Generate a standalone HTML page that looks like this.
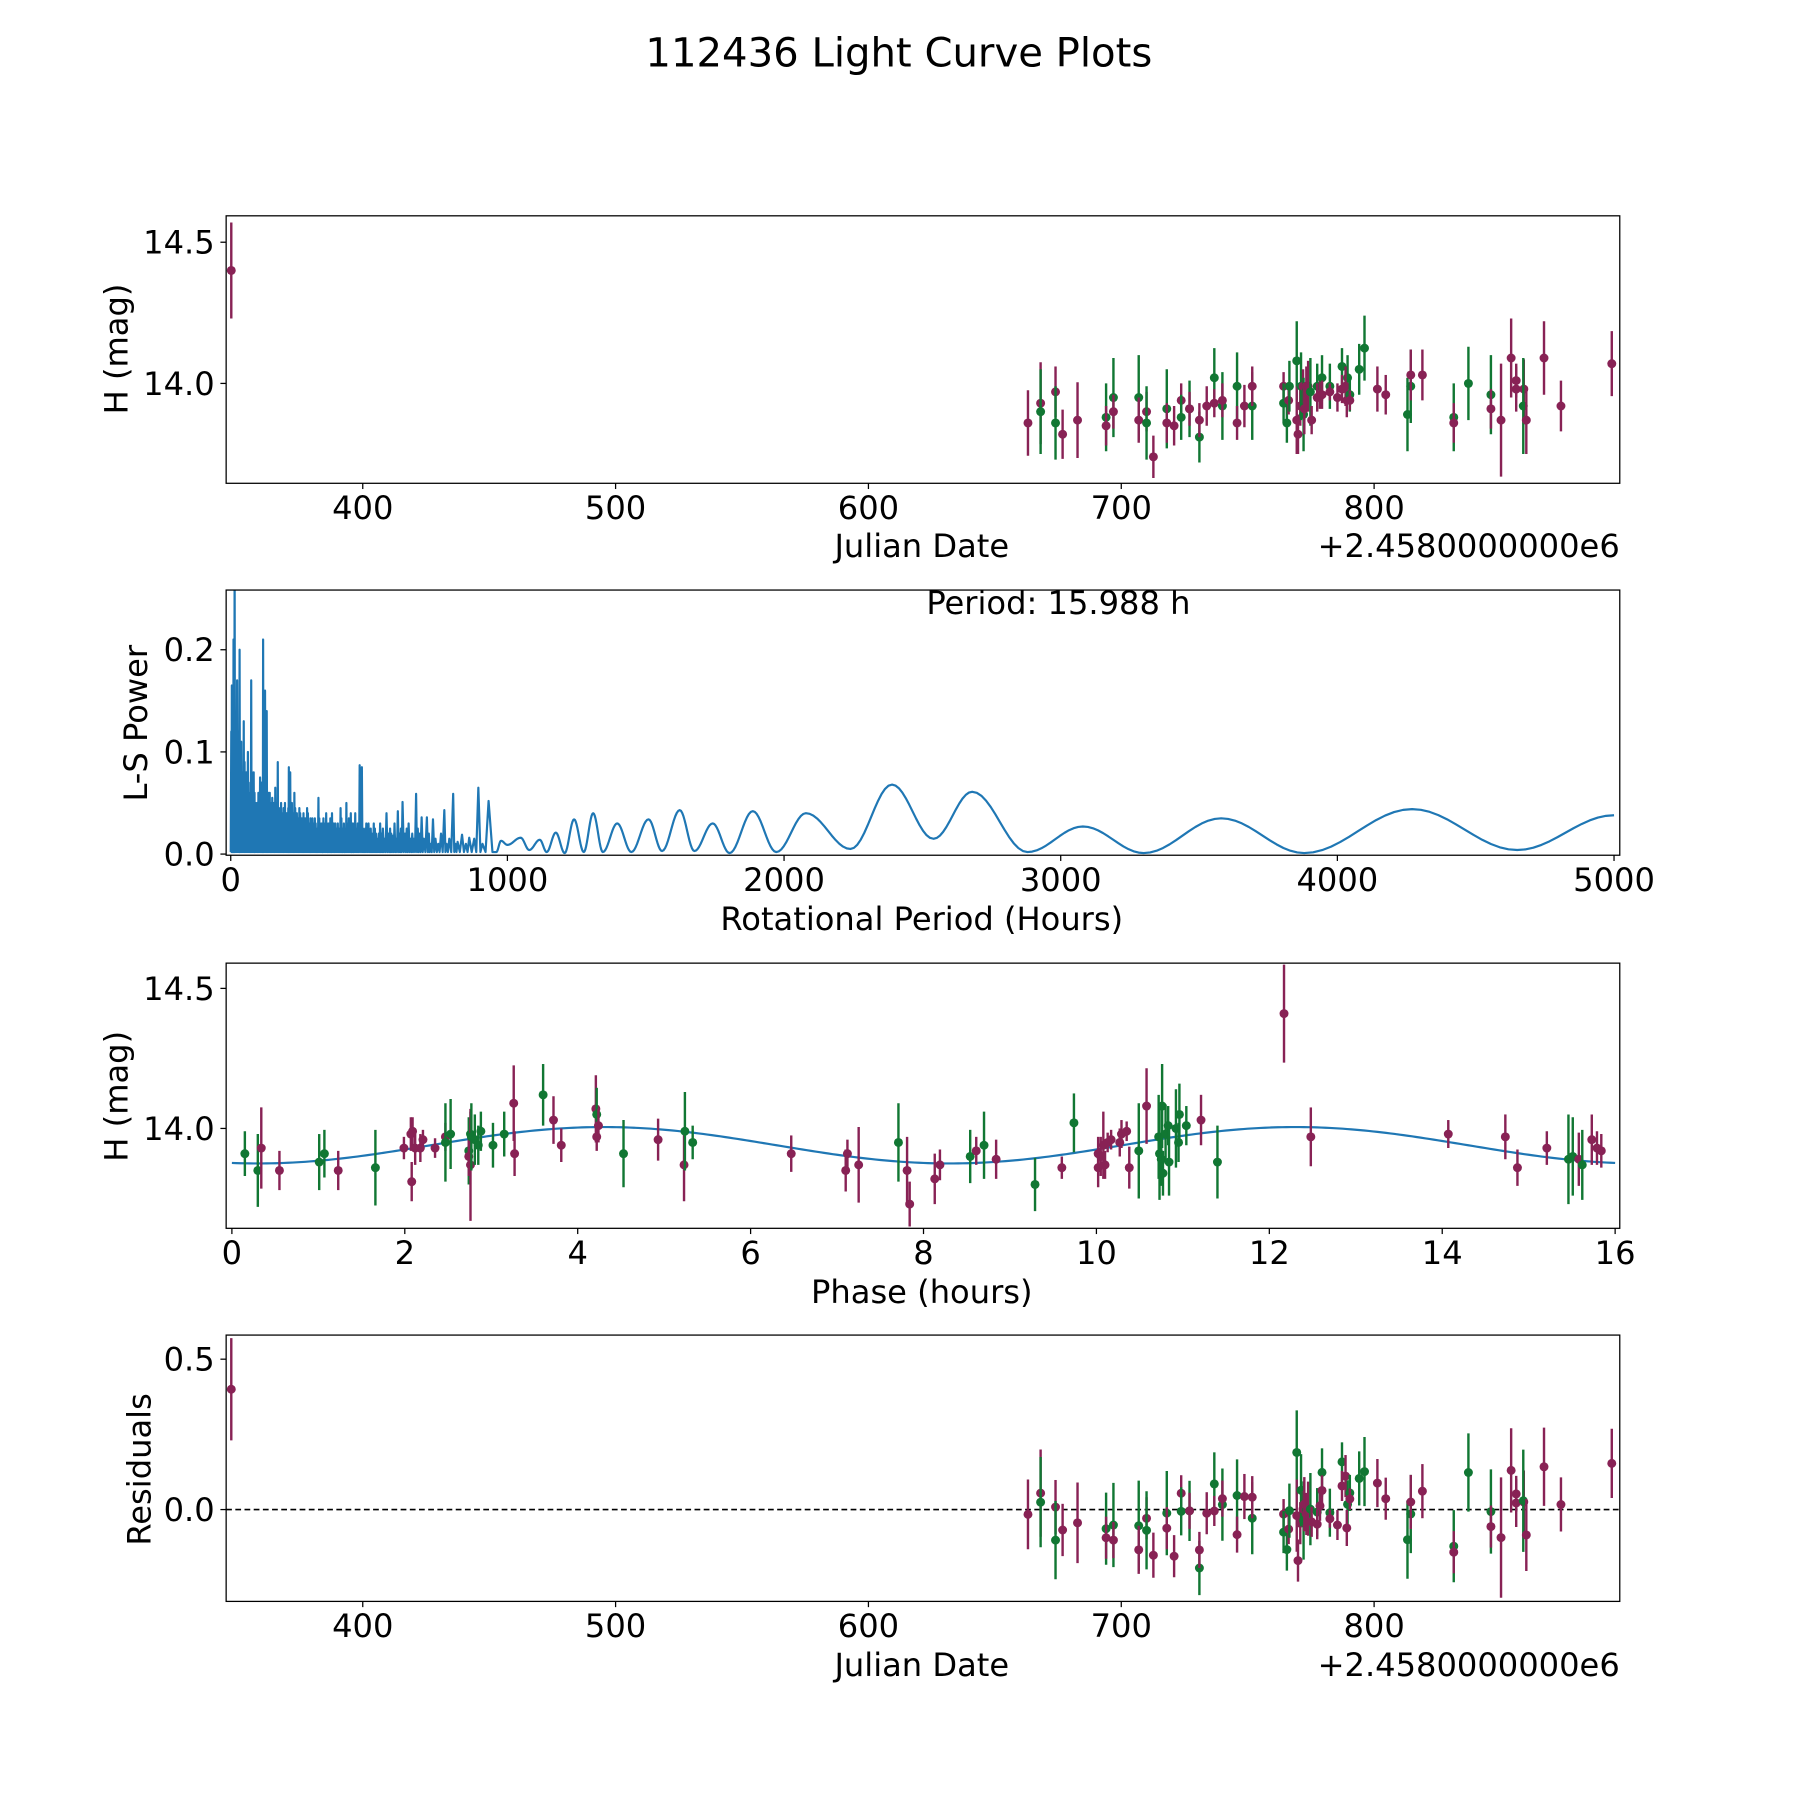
<!DOCTYPE html>
<html><head><meta charset="utf-8"><style>
html,body{margin:0;padding:0;background:#fff;}
svg{display:block;}
text{font-family:"DejaVu Sans","Liberation Sans",sans-serif;fill:#000;}
</style></head>
<body>
<svg id="fig" width="1800" height="1800" viewBox="0 0 1568 1568" xmlns="http://www.w3.org/2000/svg">
<rect width="1568" height="1568" fill="#fff"/>
<text x="783" y="58" font-size="35" text-anchor="middle">112436 Light Curve Plots</text>
</svg>
<script>
// ---------- Panel 1 / 4 observation data ----------
const obsJD = [348,663.1,668.1,668.1,674.0,674.0,676.8,682.7,694.0,694.0,696.9,696.9,706.9,706.9,710.0,710.0,712.7,718.0,718.0,720.9,723.7,723.7,727.0,727.0,730.9,730.9,733.8,736.8,736.8,740.0,740.0,745.8,745.8,748.7,751.8,751.8,764.2,764.2,765.5,766.2,766.5,769.4,769.4,769.9,770.8,771.1,771.9,772.1,772.4,773.2,773.9,774.8,775.3,777.5,777.5,778.6,779.4,779.4,782.5,782.5,785.5,787.3,787.3,789.5,788.7,789.2,790.4,790.4,794.1,796.2,801.3,804.6,813.2,814.5,814.5,819.1,831.5,831.5,837.3,846.2,846.2,850.2,854.2,856.2,856.2,859.2,859.0,860.2,867.2,873.9,894.0];
const obsMag = [14.40,13.86,13.93,13.90,13.97,13.86,13.82,13.87,13.88,13.85,13.95,13.90,13.95,13.87,13.90,13.86,13.74,13.91,13.86,13.85,13.94,13.88,13.91,13.91,13.81,13.87,13.92,14.02,13.93,13.92,13.94,13.99,13.86,13.92,13.92,13.99,13.99,13.93,13.86,13.94,13.99,14.08,13.87,13.82,13.92,13.99,13.99,13.89,13.91,13.99,13.99,13.97,13.87,13.99,13.95,13.96,14.02,13.96,13.99,13.97,13.95,14.06,13.98,14.02,13.99,13.94,13.96,13.94,14.05,14.125,13.98,13.96,13.89,13.99,14.03,14.03,13.88,13.86,14.00,13.96,13.91,13.87,14.09,14.01,13.98,13.98,13.92,13.87,14.09,13.92,14.07];
const obsErr = [0.17,0.116,0.145,0.15,0.09,0.13,0.087,0.134,0.12,0.07,0.14,0.06,0.15,0.08,0.07,0.13,0.075,0.14,0.07,0.07,0.06,0.08,0.1,0.06,0.09,0.06,0.07,0.105,0.05,0.12,0.06,0.12,0.06,0.075,0.12,0.07,0.05,0.07,0.07,0.05,0.09,0.14,0.12,0.07,0.07,0.12,0.06,0.13,0.09,0.07,0.09,0.12,0.05,0.08,0.05,0.05,0.08,0.05,0.08,0.03,0.05,0.065,0.05,0.08,0.07,0.06,0.06,0.035,0.09,0.115,0.08,0.07,0.13,0.13,0.09,0.09,0.12,0.07,0.13,0.14,0.07,0.2,0.14,0.06,0.08,0.105,0.17,0.12,0.13,0.09,0.115];
const obsBand = ['m','m','m','g','m','g','m','m','g','m','g','m','g','m','m','g','m','g','m','m','m','g','g','m','g','m','m','g','m','g','m','g','m','m','g','m','m','g','g','m','g','g','m','m','m','g','m','g','m','m','m','g','m','g','m','m','g','m','g','m','m','g','m','g','m','m','g','m','g','g','m','m','g','g','m','m','g','m','g','g','m','m','m','m','m','m','g','m','m','m','m'];

// ---------- Panel 3 phased data ----------
const phHours = [0.15,0.30,0.34,0.55,1.01,1.07,1.23,1.66,1.99,2.07,2.09,2.08,2.12,2.18,2.21,2.35,2.47,2.47,2.53,2.76,2.74,2.74,2.76,2.77,2.81,2.85,2.88,3.02,3.15,3.26,3.27,3.60,3.72,3.81,4.21,4.22,4.24,4.22,4.53,4.93,5.23,5.24,5.33,6.47,7.12,7.10,7.25,7.71,7.81,7.84,8.13,8.19,8.54,8.61,8.70,8.84,9.29,9.60,9.74,10.02,10.02,10.05,10.08,10.10,10.13,10.17,10.27,10.29,10.35,10.38,10.49,10.58,10.72,10.73,10.76,10.75,10.77,10.80,10.83,10.84,10.92,10.96,10.95,11.04,11.21,11.40,12.17,12.48,14.07,14.73,14.87,15.21,15.46,15.51,15.58,15.62,15.73,15.79,15.84];
const phMag = [13.91,13.85,13.93,13.85,13.88,13.91,13.85,13.86,13.93,13.98,13.99,13.81,13.93,13.93,13.96,13.93,13.97,13.95,13.98,13.98,13.92,13.90,13.87,13.97,13.96,13.94,13.99,13.94,13.98,14.09,13.91,14.12,14.03,13.94,14.07,14.05,14.01,13.97,13.91,13.96,13.87,13.99,13.95,13.91,13.91,13.85,13.87,13.95,13.85,13.73,13.82,13.87,13.90,13.92,13.94,13.89,13.80,13.86,14.02,13.91,13.86,13.90,13.94,13.87,13.95,13.96,13.95,13.98,13.99,13.86,13.92,14.08,13.97,13.91,14.08,13.89,13.84,13.98,14.01,13.88,14.00,14.05,13.95,14.01,14.03,13.88,14.41,13.97,13.98,13.97,13.86,13.93,13.89,13.90,13.89,13.87,13.96,13.93,13.92];
const phErr = [0.08,0.13,0.145,0.07,0.1,0.085,0.07,0.135,0.04,0.06,0.05,0.07,0.06,0.05,0.035,0.035,0.05,0.14,0.125,0.08,0.12,0.07,0.2,0.12,0.09,0.07,0.07,0.08,0.08,0.135,0.08,0.11,0.085,0.06,0.12,0.095,0.06,0.05,0.12,0.075,0.13,0.14,0.06,0.065,0.05,0.075,0.135,0.14,0.12,0.08,0.09,0.055,0.095,0.05,0.12,0.07,0.095,0.04,0.105,0.06,0.07,0.07,0.12,0.05,0.035,0.035,0.05,0.05,0.035,0.075,0.17,0.135,0.15,0.165,0.15,0.095,0.08,0.105,0.07,0.12,0.14,0.11,0.07,0.07,0.09,0.13,0.175,0.105,0.05,0.08,0.065,0.06,0.16,0.14,0.095,0.125,0.09,0.06,0.06];
const phBand = ['g','g','m','m','g','g','m','g','m','m','m','m','m','m','m','m','m','g','g','g','g','m','m','g','g','g','g','g','g','m','m','g','m','m','m','g','m','m','g','m','m','g','g','m','m','m','m','g','m','m','m','m','g','m','g','m','g','m','g','m','m','m','m','m','m','m','m','m','m','m','g','m','g','g','g','g','g','g','g','g','g','g','g','g','m','g','m','m','m','m','m','m','g','g','m','g','m','m','m'];

// ---------- Model ----------
const PERIOD_H = 15.988;
const MODEL_MEAN = 13.94;
const MODEL_AMP = 0.065;
const MODEL_SUBPERIOD = 8.0;
const MODEL_MIN_PHASE = 0.3;

// ---------- Periodogram (L-S) ----------
const lsSpikePeriod = [4,10,14,32,47,62,74,83,97,106,117,124,130,141,161,170,179,193,210,215,230,248,276,295,317,345,366,397,418,434,450,466,474,490,517,535,563,586,604,621,643,670,690,709,731,772,804,836,862,895,932];
const lsSpikePower = [0.165,0.21,0.30,0.20,0.13,0.10,0.17,0.08,0.04,0.075,0.21,0.16,0.14,0.06,0.065,0.09,0.045,0.04,0.085,0.08,0.06,0.045,0.045,0.035,0.055,0.04,0.04,0.045,0.05,0.04,0.04,0.087,0.085,0.03,0.03,0.02,0.04,0.018,0.042,0.051,0.03,0.059,0.036,0.036,0.034,0.043,0.059,0.019,0.016,0.065,0.052];
const lsMinorPeriod = [2,6,8,12,17,20,23,26,29,35,38,41,44,50,53,56,59,65,68,71,77,80,86,89,92,95,100,103,109,112,115,120,127,133,136,139,144,147,150,153,156,158,164,167,173,176,182,185,188,191,196,199,202,205,208,212,218,221,224,227,233,236,239,242,245,251,254,257,260,263,266,269,272,279,282,285,288,291,298,301,304,307,310,313,320,323,326,329,332,335,338,341,348,351,354,357,360,363,369,372,375,378,381,384,387,390,393,400,403,406,409,412,415,421,424,427,430,437,440,443,446,453,456,459,462,470,478,482,486,494,498,502,506,510,513,521,525,529,540,545,550,556,570,576,580,592,598,610,615,630,636,650,656,662,676,682,698,716,722,740,750,760,780,790,812,820,850,880,910];
const lsMinorPower = [0.12,0.11,0.08,0.15,0.11,0.09,0.17,0.12,0.10,0.09,0.11,0.08,0.07,0.09,0.06,0.08,0.07,0.06,0.05,0.07,0.08,0.05,0.06,0.05,0.04,0.05,0.06,0.045,0.05,0.07,0.06,0.09,0.07,0.05,0.06,0.04,0.05,0.04,0.055,0.04,0.05,0.035,0.05,0.04,0.045,0.035,0.05,0.04,0.03,0.045,0.05,0.035,0.04,0.03,0.045,0.04,0.035,0.05,0.03,0.04,0.045,0.03,0.04,0.035,0.03,0.04,0.03,0.035,0.025,0.04,0.03,0.035,0.03,0.04,0.03,0.025,0.035,0.03,0.03,0.025,0.035,0.03,0.025,0.02,0.035,0.03,0.025,0.03,0.02,0.035,0.03,0.025,0.03,0.02,0.03,0.025,0.035,0.02,0.025,0.03,0.02,0.03,0.025,0.02,0.03,0.025,0.02,0.035,0.02,0.025,0.03,0.02,0.025,0.03,0.02,0.035,0.025,0.02,0.03,0.02,0.03,0.025,0.02,0.03,0.02,0.03,0.025,0.02,0.025,0.02,0.03,0.02,0.025,0.02,0.015,0.025,0.02,0.015,0.03,0.02,0.025,0.015,0.02,0.025,0.02,0.03,0.015,0.02,0.025,0.02,0.025,0.015,0.02,0.015,0.025,0.02,0.015,0.02,0.01,0.015,0.01,0.02,0.01,0.015,0.01,0.012,0.01,0.015,0.01,0.012,0.01];
const lsSmoothPeriod = [960,977,1000,1048,1079,1117,1142,1175,1207,1241,1276,1310,1345,1397,1448,1510,1559,1623,1676,1742,1803,1887,1972,2079,2240,2390,2540,2680,2880,3080,3300,3580,3880,4270,4650,5000];
const lsSmoothPower = [0.002,0.013,0.009,0.016,0.004,0.014,0.002,0.021,0.001,0.034,0.002,0.040,0.002,0.030,0.002,0.034,0.003,0.043,0.003,0.030,0.001,0.042,0.002,0.040,0.005,0.068,0.015,0.061,0.002,0.027,0.001,0.035,0.001,0.044,0.004,0.038];

// ---------- Axis tick labels ----------
const jdTicks = [400,500,600,700,800];
const magTicks = [14.0,14.5];
const lsXTicks = [0,1000,2000,3000,4000,5000];
const lsYTicks = [0.0,0.1,0.2];
const phaseTicks = [0,2,4,6,8,10,12,14,16];
const residTicks = [0.0,0.5];

const COL = {m:'#882255', g:'#117733'};
const NS = 'http://www.w3.org/2000/svg';
const svg = document.getElementById('fig');
const FS = 28;

// axis functions
const p1x = v => 316 + (v-400)*2.2025;
const p1y = v => 334 - (v-14)*246;
const p2x = v => 201 + v*0.241;
const p2y = v => 744 - v*890;
const p3x = v => 202 + v*75.31;
const p3y = v => 983 - (v-14)*244;
const p4x = p1x;
const p4y = v => 1315 - v*262;
const modelMag = ph => MODEL_MEAN - MODEL_AMP*Math.cos(2*Math.PI*(ph-MODEL_MIN_PHASE)/MODEL_SUBPERIOD);

function mk(tag, attrs, parent){
  const e = document.createElementNS(NS, tag);
  for (const k in attrs) e.setAttribute(k, attrs[k]);
  (parent||svg).appendChild(e);
  return e;
}

const panels = [
  {id:'lightcurve', x:197, y:188, w:1214, h:233},
  {id:'periodogram', x:197, y:514, w:1214, h:231},
  {id:'phased', x:197, y:839, w:1214, h:231},
  {id:'residuals', x:197, y:1163, w:1214, h:232}
];
const defs = mk('defs', {});
const groups = {};
panels.forEach(p => {
  const cp = mk('clipPath', {id:'clip-'+p.id}, defs);
  mk('rect', {x:p.x, y:p.y, width:p.w, height:p.h}, cp);
  const g = mk('g', {'clip-path':'url(#clip-'+p.id+')'});
  
  
  groups[p.id] = g;
});

function errPoint(g, x, y, ylo, yhi, color, name){
  const grp = mk('g', {}, g);
  
  
  mk('line', {x1:x, x2:x, y1:ylo, y2:yhi, stroke:color, 'stroke-width':2.1}, grp);
  mk('circle', {cx:x, cy:y, r:3.9, fill:color}, grp);
}

// Panel 1
obsJD.forEach((jd,i) => {
  errPoint(groups.lightcurve, p1x(jd), p1y(obsMag[i]), p1y(obsMag[i]-obsErr[i]), p1y(obsMag[i]+obsErr[i]), COL[obsBand[i]], 'lightcurve-point');
});

// Panel 2: periodogram line
(function(){
  const spikes = [];
  lsSpikePeriod.forEach((p,i)=>spikes.push([p, lsSpikePower[i]]));
  const nMinor = Math.min(lsMinorPeriod.length, lsMinorPower.length);
  for (let i=0;i<nMinor;i++) spikes.push([lsMinorPeriod[i], lsMinorPower[i]]);
  spikes.sort((a,b)=>a[0]-b[0]);
  const pts = [[0,0.002]];
  spikes.forEach((s,i)=>{
    pts.push(s);
    const nx = i<spikes.length-1 ? spikes[i+1][0] : lsSmoothPeriod[0];
    pts.push([(s[0]+nx)/2, 0.002]);
  });
  for (let i=0;i<lsSmoothPeriod.length-1;i++){
    const a=lsSmoothPeriod[i], b=lsSmoothPeriod[i+1], pa=lsSmoothPower[i], pb=lsSmoothPower[i+1];
    for (let k=0;k<12;k++){
      const t=k/12, s=(1-Math.cos(Math.PI*t))/2;
      pts.push([a+(b-a)*t, pa+(pb-pa)*s]);
    }
  }
  pts.push([lsSmoothPeriod[lsSmoothPeriod.length-1], lsSmoothPower[lsSmoothPower.length-1]]);
  const good = pts.filter(p=>isFinite(p[0]) && isFinite(p[1]));
  const d = good.map((p,i)=>(i?'L':'M')+p2x(p[0]).toFixed(2)+','+p2y(p[1]).toFixed(2)).join('');
  const path = mk('path', {d:d, fill:'none', stroke:'#1f77b4', 'stroke-width':1.9, 'stroke-linejoin':'round'}, groups.periodogram);
  
  
})();

// Panel 3
(function(){
  let d='';
  for (let k=0;k<=320;k++){ const ph=k*16/320; d += (k?'L':'M')+p3x(ph).toFixed(2)+','+p3y(modelMag(ph)).toFixed(2); }
  const path = mk('path', {d:d, fill:'none', stroke:'#1f77b4', 'stroke-width':1.9}, groups.phased);
  
  
})();
phHours.forEach((ph,i)=>{
  errPoint(groups.phased, p3x(ph), p3y(phMag[i]), p3y(phMag[i]-phErr[i]), p3y(phMag[i]+phErr[i]), COL[phBand[i]], 'phased-point');
});

// Panel 4
(function(){
  const z = mk('line', {x1:197, x2:1411, y1:p4y(0), y2:p4y(0), stroke:'#000', 'stroke-width':1.4, 'stroke-dasharray':'5,3'}, groups.residuals);
  
  
})();
obsJD.forEach((jd,i)=>{
  const ph = ((jd-obsJD[0])*24) % PERIOD_H;
  const r = obsMag[i] - (i===0 ? 14.0 : modelMag(ph));
  errPoint(groups.residuals, p4x(jd), p4y(r), p4y(r-obsErr[i]), p4y(r+obsErr[i]), COL[obsBand[i]], 'residual-point');
});

// Frames, ticks, labels
function txt(s, x, y, attrs, name){
  const t = mk('text', Object.assign({x:x, y:y, 'font-size':FS}, attrs||{}));
  t.textContent = s;
  
  
  return t;
}
panels.forEach(p=>{
  const r = mk('rect', {x:p.x, y:p.y, width:p.w, height:p.h, fill:'none', stroke:'#000', 'stroke-width':1.1});
  
  
});
function xTicks(vals, fx, bottom, fmt, name){
  vals.forEach(v=>{
    const x=fx(v);
    mk('line', {x1:x, x2:x, y1:bottom, y2:bottom+5, stroke:'#000', 'stroke-width':1.1});
    txt(fmt(v), x, bottom+31, {'text-anchor':'middle'}, name);
  });
}
function yTicks(vals, fy, fmt, name){
  vals.forEach(v=>{
    const y=fy(v);
    mk('line', {x1:192, x2:197, y1:y, y2:y, stroke:'#000', 'stroke-width':1.1});
    txt(fmt(v), 187, y+10, {'text-anchor':'end'}, name);
  });
}
const f1 = v=>v.toFixed(1), f0 = v=>String(v);
xTicks(jdTicks, p1x, 421, f0, 'x-tick-label');
yTicks(magTicks, p1y, f1, 'y-tick-label');
xTicks(lsXTicks, p2x, 745, f0, 'x-tick-label');
yTicks(lsYTicks, p2y, f1, 'y-tick-label');
xTicks(phaseTicks, p3x, 1070, f0, 'x-tick-label');
yTicks(magTicks, p3y, f1, 'y-tick-label');
xTicks(jdTicks, p4x, 1395, f0, 'x-tick-label');
yTicks(residTicks, p4y, f1, 'y-tick-label');

txt('Julian Date', 803, 485, {'text-anchor':'middle'}, 'x-axis-title');
txt('+2.4580000000e6', 1411, 485, {'text-anchor':'end'}, 'x-axis-offset');
txt('Rotational Period (Hours)', 803, 810, {'text-anchor':'middle'}, 'x-axis-title');
txt('Phase (hours)', 803, 1135, {'text-anchor':'middle'}, 'x-axis-title');
txt('Julian Date', 803, 1460, {'text-anchor':'middle'}, 'x-axis-title');
txt('+2.4580000000e6', 1411, 1460, {'text-anchor':'end'}, 'x-axis-offset');
txt('Period: 15.988 h', 922, 535, {'text-anchor':'middle'}, 'period-annotation');
[['H (mag)',111,304],['L-S Power',128,630],['H (mag)',111,955],['Residuals',131,1280]].forEach(a=>{
  txt(a[0], a[1], a[2], {'text-anchor':'middle', transform:'rotate(-90 '+a[1]+' '+a[2]+')'}, 'y-axis-title');
});
</script>
</body></html>
